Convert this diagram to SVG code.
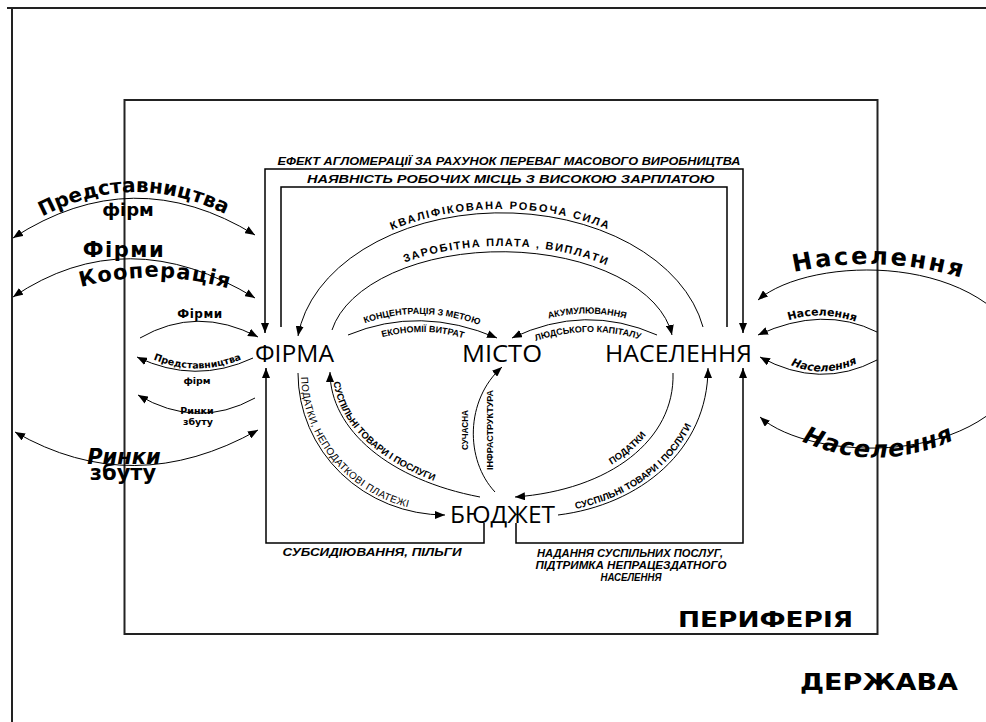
<svg xmlns="http://www.w3.org/2000/svg" width="986" height="722" viewBox="0 0 986 722">
<defs>
<marker id="ah" viewBox="0 0 10 8" refX="10" refY="4" markerWidth="10" markerHeight="8" orient="auto-start-reverse" markerUnits="userSpaceOnUse"><path d="M0,0 L10,4 L0,8 Z" fill="#000"/></marker>
<path id="tpKval" d="M291.5,353 A209,144 0 0 1 709.5,353"/>
<path id="tpZar" d="M326,345 A176,99 0 0 1 678,345"/>
<path id="tpKonc" d="M350,329 Q420,298 494,331"/>
<path id="tpEkon" d="M360,345 Q425,318 485,347"/>
<path id="tpAkum" d="M515,331 Q585,297 654,329"/>
<path id="tpLud" d="M520,347 Q588,318 656,345"/>
<path id="tpPod1" d="M301,373 A144,139 0 0 0 445,512"/>
<path id="tpSusL" d="M333,372 C333,428 392,476 480,494"/>
<path id="tpPod2" d="M515,493 C607,486 669,437 668,373"/>
<path id="tpSusR" d="M558,512 C638,502 704,448 704,368"/>
<path id="tpPredBig" d="M15,233 Q133,153 253,230"/>
<path id="tpKoop" d="M62,293 Q155,261 248,295"/>
<path id="tpPredSm" d="M150,358 Q197,379 245,358"/>
<path id="tpNasTop" d="M782,275 Q878,250 975,282"/>
<path id="tpNasBot" d="M795,438 Q878,478 962,436"/>
<path id="tpNasSm1" d="M778,324 Q822,306 866,326"/>
<path id="tpNasSm2" d="M784,362 Q823,382 864,360"/>
</defs>
<style>
.ln{fill:none;stroke:#000;stroke-width:1.5}
.arc{fill:none;stroke:#000;stroke-width:1}
.frame{fill:none;stroke:#222;stroke-width:2}
.node{font-family:"Open Sans","DejaVu Sans",sans-serif;font-size:24px;fill:#000}
.bi{font-family:"Liberation Sans",Arial,sans-serif;font-weight:bold;font-style:italic;fill:#000}
.b{font-family:"Liberation Sans",Arial,sans-serif;font-weight:bold;fill:#000}
.n{font-family:"Liberation Sans",Arial,sans-serif;fill:#000}
.w{font-family:"DejaVu Sans",sans-serif;font-weight:bold;fill:#000}
</style>

<g id="frames">
<path class="frame" d="M7,8 H986 M12,8 V722"/>
<rect class="frame" x="124.5" y="100" width="753" height="534"/>
</g>

<g id="connectors">
<path class="ln" d="M265,333 V169 H743 V333" marker-start="url(#ah)" marker-end="url(#ah)"/>
<path class="ln" d="M281,327 V187 H727 V327"/>
<path class="ln" d="M484,523 V543 H266 V368" marker-end="url(#ah)"/>
<path class="ln" d="M516,523 V543 H743 V368" marker-end="url(#ah)"/>
<path class="arc" d="M703,327 A205,140 0 0 0 298,336" marker-end="url(#ah)"/>
<path class="arc" d="M332,330 A172,95 0 0 1 672,335" marker-end="url(#ah)"/>
<path class="arc" d="M348,335 Q420,305 497,338" marker-end="url(#ah)"/>
<path class="arc" d="M657,335 Q585,303 512,338" marker-end="url(#ah)"/>
<path class="arc" d="M298,373 A147,142 0 0 0 445,515" marker-end="url(#ah)"/>
<path class="arc" d="M480,497 C390,480 330,430 330,372" marker-end="url(#ah)"/>
<path class="arc" d="M495,492 C465,460 465,400 502,367" marker-end="url(#ah)"/>
<path class="arc" d="M673,373 C675,440 610,490 515,497" marker-end="url(#ah)"/>
<path class="arc" d="M558,515 C640,505 708,450 708,368" marker-end="url(#ah)"/>
<path class="arc" d="M13,238 Q133,160 255,235" marker-start="url(#ah)" marker-end="url(#ah)"/>
<path class="arc" d="M13,297 Q127,220 255,298" marker-start="url(#ah)" marker-end="url(#ah)"/>
<path class="arc" d="M140,338 Q197,305 258,337" marker-end="url(#ah)"/>
<path class="arc" d="M253,358 Q195,385 137,357" marker-end="url(#ah)"/>
<path class="arc" d="M255,398 Q197,430 138,395" marker-end="url(#ah)"/>
<path class="arc" d="M15,432 Q133,500 258,430" marker-start="url(#ah)" marker-end="url(#ah)"/>
<path class="arc" d="M758,300 C810,255 990,250 1030,360 C990,470 810,462 760,417" marker-start="url(#ah)" marker-end="url(#ah)"/>
<path class="arc" d="M877,332 Q823,305 758,335" marker-end="url(#ah)"/>
<path class="arc" d="M877,360 Q820,390 760,357" marker-end="url(#ah)"/>
</g>

<g id="firma"><text class="node" x="255" y="362" textLength="79" lengthAdjust="spacingAndGlyphs">ФІРМА</text></g>
<g id="misto"><text class="node" x="462" y="362" textLength="80" lengthAdjust="spacingAndGlyphs">МІСТО</text></g>
<g id="naselennia"><text class="node" x="605" y="362" textLength="147" lengthAdjust="spacingAndGlyphs">НАСЕЛЕННЯ</text></g>
<g id="budzhet"><text class="node" x="450" y="523" textLength="105" lengthAdjust="spacingAndGlyphs">БЮДЖЕТ</text></g>

<g id="labels">
<text class="bi" font-size="10.5" x="509" y="165" text-anchor="middle" textLength="463" lengthAdjust="spacingAndGlyphs">ЕФЕКТ АГЛОМЕРАЦІЇ ЗА РАХУНОК ПЕРЕВАГ МАСОВОГО ВИРОБНИЦТВА</text>
<text class="bi" font-size="10.5" x="511" y="183" text-anchor="middle" textLength="408" lengthAdjust="spacingAndGlyphs">НАЯВНІСТЬ РОБОЧИХ МІСЦЬ З ВИСОКОЮ ЗАРПЛАТОЮ</text>
<text class="b" font-size="11" letter-spacing="1.8"><textPath href="#tpKval" startOffset="50%" text-anchor="middle">КВАЛІФІКОВАНА РОБОЧА СИЛА</textPath></text>
<text class="b" font-size="11" letter-spacing="1.6"><textPath href="#tpZar" startOffset="51%" text-anchor="middle">ЗАРОБІТНА ПЛАТА , ВИПЛАТИ</textPath></text>
<text class="b" font-size="9"><textPath href="#tpKonc" startOffset="50%" text-anchor="middle">КОНЦЕНТРАЦІЯ З МЕТОЮ</textPath></text>
<text class="b" font-size="9"><textPath href="#tpEkon" startOffset="50%" text-anchor="middle">ЕКОНОМІЇ ВИТРАТ</textPath></text>
<text class="b" font-size="9"><textPath href="#tpAkum" startOffset="52%" text-anchor="middle">АКУМУЛЮВАННЯ</textPath></text>
<text class="b" font-size="9"><textPath href="#tpLud" startOffset="50%" text-anchor="middle">ЛЮДСЬКОГО КАПІТАЛУ</textPath></text>
<text class="n" font-size="10" letter-spacing="0.4"><textPath href="#tpPod1" startOffset="4">ПОДАТКИ, НЕПОДАТКОВІ ПЛАТЕЖІ</textPath></text>
<text class="b" font-size="9.5"><textPath href="#tpSusL" startOffset="10">СУСПІЛЬНІ ТОВАРИ І ПОСЛУГИ</textPath></text>
<text class="b" font-size="9.5"><textPath href="#tpPod2" startOffset="58%" text-anchor="middle">ПОДАТКИ</textPath></text>
<text class="b" font-size="9.5"><textPath href="#tpSusR" startOffset="18">СУСПІЛЬНІ ТОВАРИ І ПОСЛУГИ</textPath></text>
<text class="b" font-size="8.5" transform="translate(468,430) rotate(-90)" text-anchor="middle" textLength="40" lengthAdjust="spacingAndGlyphs">СУЧАСНА</text>
<text class="b" font-size="8.5" transform="translate(493,430) rotate(-90)" text-anchor="middle" textLength="80" lengthAdjust="spacingAndGlyphs">ІНФРАСТРУКТУРА</text>
<text class="bi" font-size="10.5" x="372" y="556" text-anchor="middle" textLength="179" lengthAdjust="spacingAndGlyphs">СУБСИДІЮВАННЯ, ПІЛЬГИ</text>
<text class="bi" font-size="10.5" x="630" y="557" text-anchor="middle" textLength="186" lengthAdjust="spacingAndGlyphs">НАДАННЯ СУСПІЛЬНИХ ПОСЛУГ,</text>
<text class="bi" font-size="10.5" x="631" y="569" text-anchor="middle" textLength="191" lengthAdjust="spacingAndGlyphs">ПІДТРИМКА НЕПРАЦЕЗДАТНОГО</text>
<text class="bi" font-size="10.5" x="631" y="581" text-anchor="middle" textLength="61" lengthAdjust="spacingAndGlyphs">НАСЕЛЕННЯ</text>
<text class="w" font-size="21" x="678" y="627" textLength="175" lengthAdjust="spacingAndGlyphs">ПЕРИФЕРІЯ</text>
<text class="w" font-size="23" x="800" y="690" textLength="158" lengthAdjust="spacingAndGlyphs">ДЕРЖАВА</text>
</g>

<g id="left-labels">
<text class="w" font-size="20"><textPath href="#tpPredBig" startOffset="50%" text-anchor="middle">Представництва</textPath></text>
<text class="w" font-size="18" x="128" y="216" text-anchor="middle">фірм</text>
<text class="w" font-size="21" letter-spacing="1.5" x="124" y="257" text-anchor="middle">Фірми</text>
<text class="w" font-size="21" letter-spacing="1"><textPath href="#tpKoop" startOffset="50%" text-anchor="middle">Кооперація</textPath></text>
<text class="w" font-size="12" letter-spacing="0.5" x="200" y="318" text-anchor="middle">Фірми</text>
<text class="w" font-size="9.5"><textPath href="#tpPredSm" startOffset="50%" text-anchor="middle">Представництва</textPath></text>
<text class="w" font-size="9.5" x="197" y="384" text-anchor="middle">фірм</text>
<text class="w" font-size="9.5" x="197" y="414" text-anchor="middle">Ринки</text>
<text class="w" font-size="9.5" x="198" y="425" text-anchor="middle">збуту</text>
<text class="w" font-size="21" font-style="italic" x="124" y="464" text-anchor="middle">Ринки</text>
<text class="w" font-size="21" x="123" y="480" text-anchor="middle">збуту</text>
</g>

<g id="right-labels">
<text class="w" font-size="24" letter-spacing="2.5"><textPath href="#tpNasTop" startOffset="50%" text-anchor="middle">Населення</textPath></text>
<text class="w" font-size="24" font-style="italic" letter-spacing="1"><textPath href="#tpNasBot" startOffset="50%" text-anchor="middle">Населення</textPath></text>
<text class="w" font-size="11"><textPath href="#tpNasSm1" startOffset="50%" text-anchor="middle">Населення</textPath></text>
<text class="w" font-size="11" font-style="italic"><textPath href="#tpNasSm2" startOffset="50%" text-anchor="middle">Населення</textPath></text>
</g>
</svg>
